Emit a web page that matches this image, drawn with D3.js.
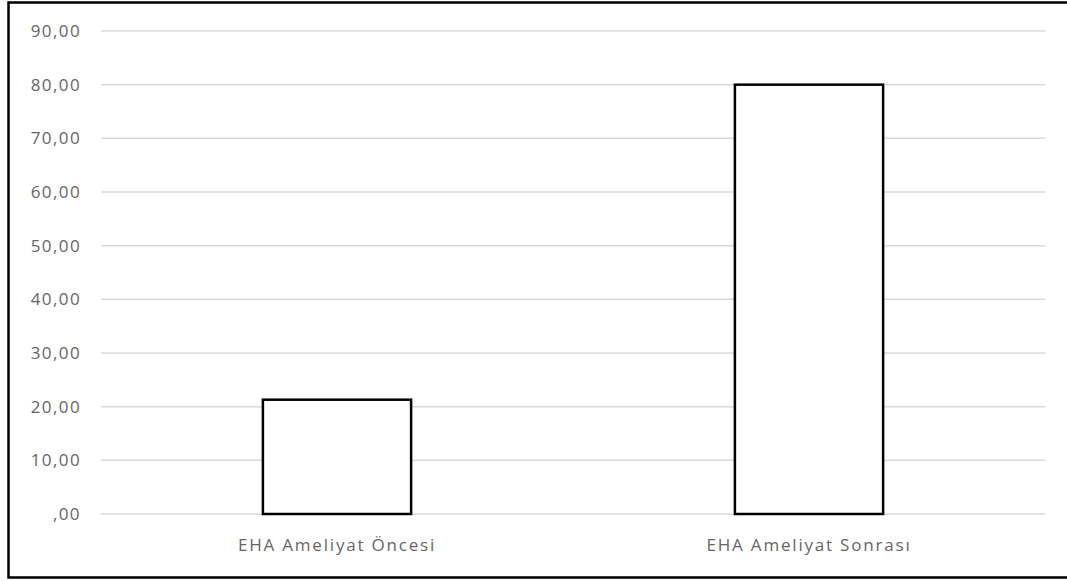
<!DOCTYPE html>
<html>
<head>
<meta charset="utf-8">
<script src="https://cdn.jsdelivr.net/npm/d3@7"></script>
<style>
  html, body { margin: 0; padding: 0; background: #fff; }
  svg { display: block; }
</style>
</head>
<body>
<svg id="chart" width="1067" height="581"></svg>
<script>
// Chart data
const categories = ["EHA Ameliyat Öncesi", "EHA Ameliyat Sonrası"];
const values = [21.3, 80.0];
const yTicks = [0, 10, 20, 30, 40, 50, 60, 70, 80, 90];

const svg = d3.select("#chart");
const W = 1067, H = 581;

// Outer frame (left, top, bottom edges)
svg.append("rect").attr("x", 0).attr("y", 0).attr("width", W).attr("height", H).attr("fill", "#fff");
svg.append("path")
  .attr("d", `M${W},2.5 H8.5 V577.5 H${W}`)
  .attr("fill", "none")
  .attr("stroke", "#000")
  .attr("stroke-width", 2.5);

const plot = { left: 101, right: 1045, top: 31, bottom: 514 };

const x = d3.scaleBand()
  .domain(categories)
  .range([plot.left, plot.right])
  .paddingInner(0.686)
  .paddingOuter(0.343);

const y = d3.scaleLinear()
  .domain([0, 90])
  .range([plot.bottom, plot.top]);

const fmt = v => {
  const s = v.toFixed(2).replace(".", ",");
  return s.startsWith("0,") ? s.slice(1) : s;
};

// Gridlines
svg.append("g")
  .selectAll("line")
  .data(yTicks)
  .join("line")
  .attr("x1", plot.left)
  .attr("x2", plot.right)
  .attr("y1", d => y(d))
  .attr("y2", d => y(d))
  .attr("stroke", "#d9d9d9")
  .attr("stroke-width", 1.5);

// Y axis labels
const yAxis = d3.axisLeft(y).tickValues(yTicks).tickFormat(fmt).tickSize(0).tickPadding(0);
const gy = svg.append("g").attr("transform", `translate(81,0)`).call(yAxis);
gy.select(".domain").remove();
gy.selectAll("text")
  .attr("fill", "#666")
  .style("font-family", "'Open Sans', sans-serif")
  .style("font-size", "17px")
  .style("letter-spacing", "1.4px");

// Bars
svg.append("g")
  .selectAll("rect")
  .data(values)
  .join("rect")
  .attr("x", (d, i) => x(categories[i]))
  .attr("width", x.bandwidth())
  .attr("y", d => y(d))
  .attr("height", d => y(0) - y(d))
  .attr("fill", "#fff")
  .attr("stroke", "#000")
  .attr("stroke-width", 2.5);

// X axis labels
const xAxis = d3.axisBottom(x).tickSize(0).tickPadding(0);
const gx = svg.append("g").attr("transform", `translate(0,539)`).call(xAxis);
gx.select(".domain").remove();
gx.selectAll("text")
  .attr("fill", "#666")
  .style("font-family", "'Open Sans', sans-serif")
  .style("font-size", "17px")
  .style("letter-spacing", "1.8px");
</script>
</body>
</html>
